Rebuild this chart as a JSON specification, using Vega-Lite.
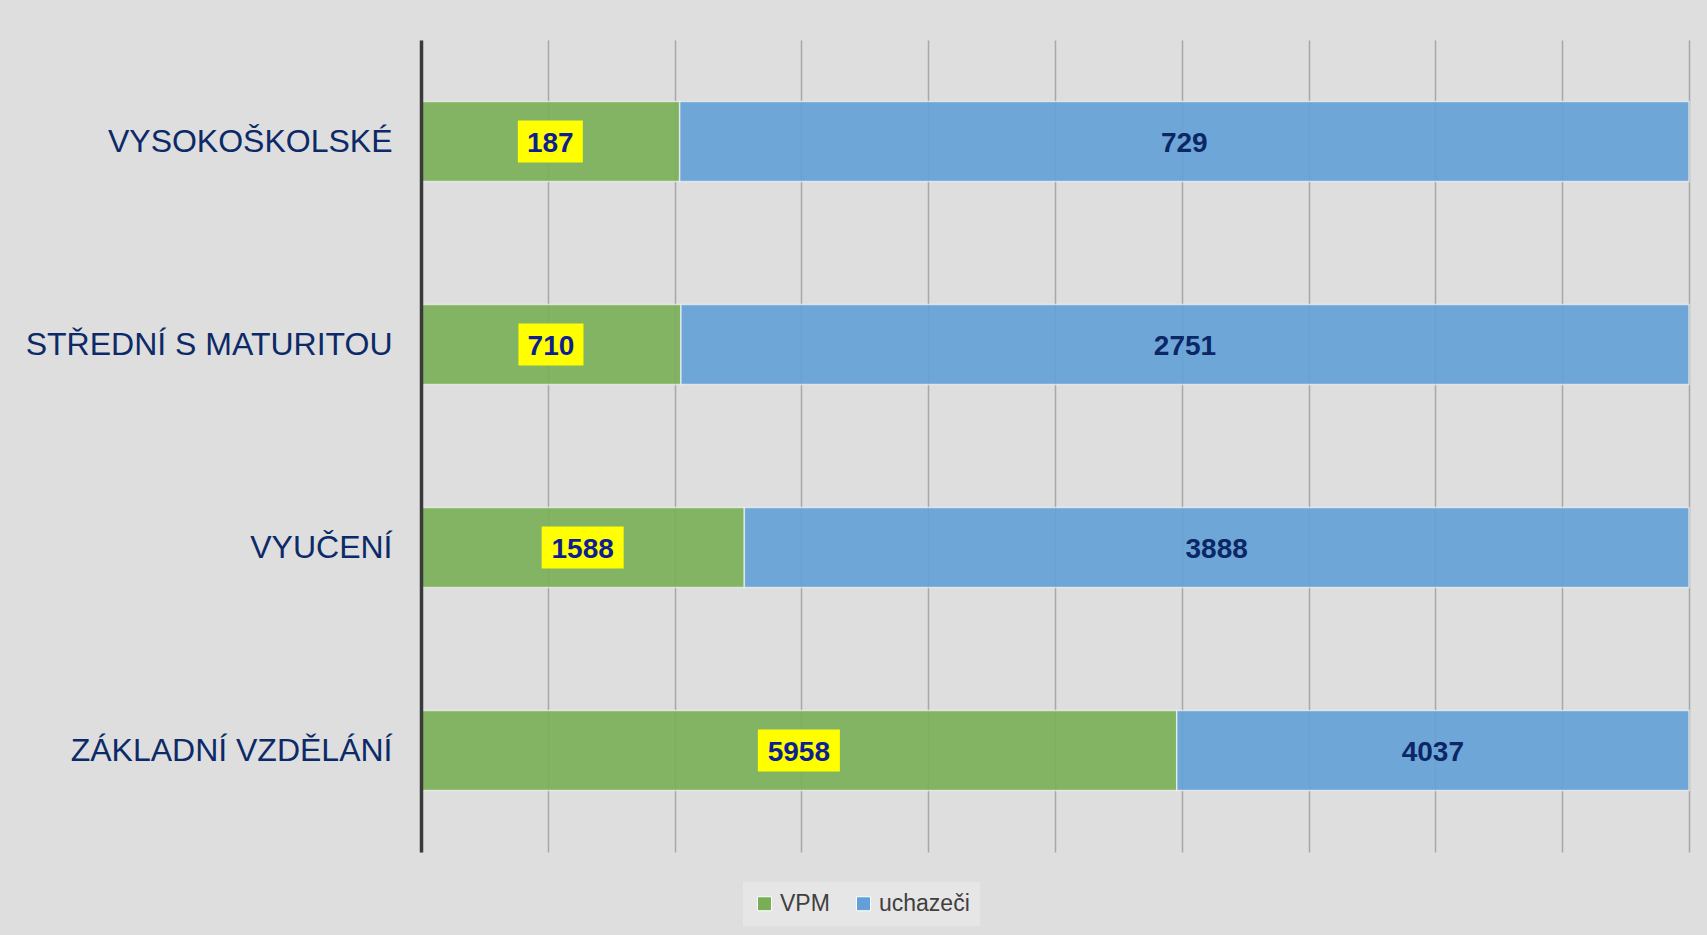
{
  "$schema": "https://vega.github.io/schema/vega-lite/v6.json",
  "width": 1268,
  "height": 812,
  "autosize": {"type": "none"},
  "padding": {"left": 421, "top": 40, "right": 18, "bottom": 83},
  "background": "#dedede",
  "config": {"view": {"stroke": null}, "font": "Liberation Sans"},
  "data": {
    "values": [
      {"vzdelani": "VYSOKOŠKOLSKÉ", "rada": "VPM", "hodnota": 187, "podil": 20.4},
      {"vzdelani": "VYSOKOŠKOLSKÉ", "rada": "uchazeči", "hodnota": 729, "podil": 79.6},
      {"vzdelani": "STŘEDNÍ S MATURITOU", "rada": "VPM", "hodnota": 710, "podil": 20.5},
      {"vzdelani": "STŘEDNÍ S MATURITOU", "rada": "uchazeči", "hodnota": 2751, "podil": 79.5},
      {"vzdelani": "VYUČENÍ", "rada": "VPM", "hodnota": 1588, "podil": 25.5},
      {"vzdelani": "VYUČENÍ", "rada": "uchazeči", "hodnota": 3888, "podil": 74.5},
      {"vzdelani": "ZÁKLADNÍ VZDĚLÁNÍ", "rada": "VPM", "hodnota": 5958, "podil": 59.6},
      {"vzdelani": "ZÁKLADNÍ VZDĚLÁNÍ", "rada": "uchazeči", "hodnota": 4037, "podil": 40.4}
    ]
  },
  "transform": [
    {"stack": "podil", "groupby": ["vzdelani"], "sort": [{"field": "rada", "order": "ascending"}], "as": ["x0", "x1"]},
    {"calculate": "(datum.x0 + datum.x1) / 2", "as": "xm"}
  ],
  "encoding": {
    "y": {
      "field": "vzdelani",
      "type": "nominal",
      "sort": null,
      "scale": {"paddingInner": 0.606, "paddingOuter": 0.303},
      "axis": {
        "title": null,
        "ticks": false,
        "grid": false,
        "domainColor": "#3a3a3a",
        "domainWidth": 3.5,
        "labelFont": "Liberation Sans",
        "labelFontSize": 32,
        "labelColor": "#0c2a68",
        "labelPadding": 29,
        "labelLimit": 0,
        "labelBaseline": "middle",
        "zindex": 1
      }
    }
  },
  "layer": [
    {
      "mark": {"type": "bar", "fillOpacity": 0.9, "stroke": "#f4f4f4", "strokeWidth": 1.5, "strokeOpacity": 0.7},
      "encoding": {
        "x": {
          "field": "x0",
          "type": "quantitative",
          "scale": {"domain": [0, 100], "nice": false},
          "axis": {
            "title": null,
            "values": [0, 10, 20, 30, 40, 50, 60, 70, 80, 90, 100],
            "labels": false,
            "ticks": false,
            "domain": false,
            "grid": true,
            "gridColor": "#a8a8a8",
            "gridWidth": 1.5
          }
        },
        "x2": {"field": "x1"},
        "color": {
          "field": "rada",
          "type": "nominal",
          "scale": {"domain": ["VPM", "uchazeči"], "range": ["#78af55", "#62a0d7"]},
          "legend": {
            "title": null,
            "orient": "none",
            "direction": "horizontal",
            "legendX": 322,
            "legendY": 842,
            "padding": 10,
            "fillColor": "#e6e6e6",
            "symbolType": "square",
            "symbolSize": 196,
            "symbolStrokeColor": "#ffffff",
            "symbolStrokeWidth": 1,
            "symbolOpacity": 1,
            "labelFont": "Liberation Sans",
            "labelFontSize": 23,
            "labelColor": "#404040",
            "labelOffset": 4,
            "columnPadding": 22
          }
        }
      }
    },
    {
      "transform": [{"filter": "datum.rada == 'VPM'"}],
      "mark": {"type": "point", "filled": true, "opacity": 1, "color": "#ffff00", "size": 1600, "strokeWidth": 0},
      "encoding": {
        "x": {"field": "xm", "type": "quantitative"},
        "shape": {
          "condition": {"test": "datum.hodnota >= 1000", "value": "M-2.05,-1.05H2.05V1.05H-2.05Z"},
          "value": "M-1.625,-1.05H1.625V1.05H-1.625Z"
        }
      }
    },
    {
      "mark": {"type": "text", "font": "Liberation Sans", "fontSize": 28, "fontWeight": "bold", "baseline": "middle", "align": "center", "dy": 2},
      "encoding": {
        "x": {"field": "xm", "type": "quantitative"},
        "text": {"field": "hodnota", "type": "quantitative", "format": "d"},
        "color": {
          "condition": {"test": "datum.rada == 'VPM'", "value": "#0d1f91"},
          "value": "#0c2766"
        }
      }
    }
  ]
}
